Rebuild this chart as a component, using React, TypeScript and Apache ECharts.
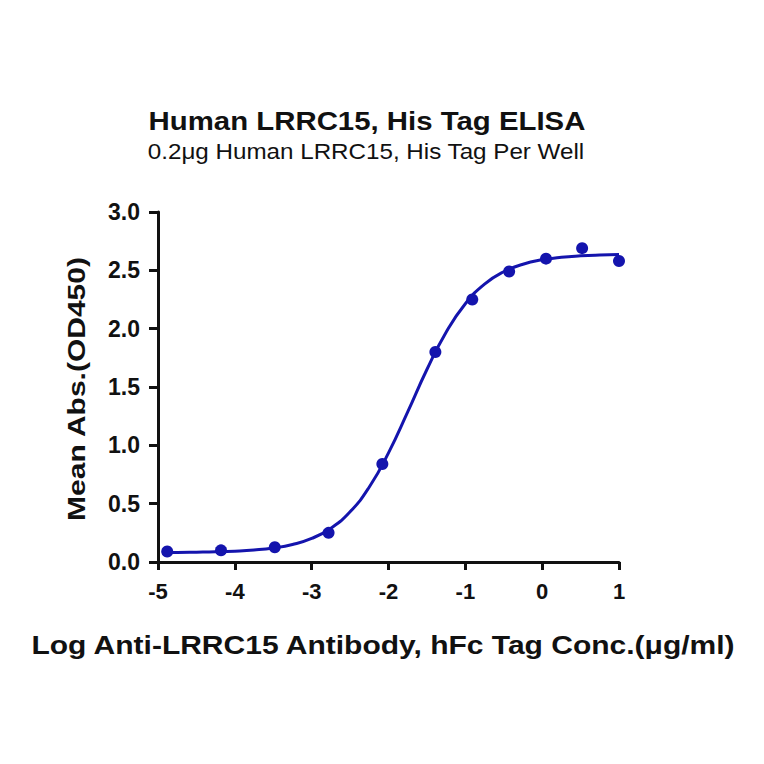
import React, { useEffect, useRef } from "react";
import * as echarts from "echarts";

const titleText = "Human LRRC15, His Tag ELISA";
const subtitleText = "0.2μg Human LRRC15, His Tag Per Well";
const xAxisName = "Log Anti-LRRC15 Antibody, hFc Tag Conc.(μg/ml)";
const yAxisName = "Mean Abs.(OD450)";

// measured points (log conc, OD450)
const pointX = [-4.88, -4.18, -3.48, -2.78, -2.08, -1.39, -0.91, -0.43, 0.05, 0.52, 1.0];
const pointY = [0.09, 0.1, 0.126, 0.25, 0.84, 1.8, 2.25, 2.49, 2.6, 2.69, 2.58];

// fitted curve
const curveX = [-4.88, -4.75, -4.5, -4.25, -4.0, -3.75, -3.5, -3.25, -3.0, -2.75, -2.5, -2.25, -2.0, -1.75, -1.5, -1.25, -1.0, -0.75, -0.5, -0.25, 0, 0.25, 0.5, 0.75, 1.0];
const curveY = [0.082, 0.082, 0.084, 0.087, 0.093, 0.103, 0.12, 0.15, 0.202, 0.29, 0.43, 0.643, 0.935, 1.286, 1.65, 1.97, 2.214, 2.382, 2.488, 2.552, 2.59, 2.612, 2.624, 2.631, 2.635];

const COLOR = "#1414ad";
const FONT = "Liberation Sans, Arial, sans-serif";
const INK = "#111";

export default function App() {
  const ref = useRef<HTMLDivElement>(null);
  useEffect(() => {
    if (!ref.current) return;
    const chart = echarts.init(ref.current, null, { renderer: "svg" });
    chart.setOption({
      animation: false,
      backgroundColor: "#ffffff",
      graphic: [
        {
          type: "text",
          x: 367,
          y: 121,
          scaleX: 1.13,
          style: {
            text: titleText,
            fontFamily: FONT,
            fontSize: 26,
            fontWeight: "bold",
            fill: INK,
            align: "center",
            verticalAlign: "middle",
          },
        },
        {
          type: "text",
          x: 366,
          y: 151,
          scaleX: 1.1,
          style: {
            text: subtitleText,
            fontFamily: FONT,
            fontSize: 22,
            fill: INK,
            align: "center",
            verticalAlign: "middle",
          },
        },
        {
          type: "text",
          x: 383,
          y: 645,
          scaleX: 1.2,
          style: {
            text: xAxisName,
            fontFamily: FONT,
            fontSize: 25,
            fontWeight: "bold",
            fill: INK,
            align: "center",
            verticalAlign: "middle",
          },
        },
        {
          type: "text",
          x: 77,
          y: 389,
          rotation: Math.PI / 2,
          scaleX: 1.25,
          style: {
            text: yAxisName,
            fontFamily: FONT,
            fontSize: 24,
            fontWeight: "bold",
            fill: INK,
            align: "center",
            verticalAlign: "middle",
          },
        },
      ],
      grid: { left: 158, right: 145, top: 212, bottom: 202, containLabel: false },
      xAxis: {
        type: "value",
        min: -5,
        max: 1,
        interval: 1,
        axisLine: { onZero: false, lineStyle: { color: INK, width: 3 } },
        axisTick: { length: 8, lineStyle: { color: INK, width: 3 } },
        axisLabel: { fontFamily: FONT, fontSize: 22, fontWeight: "bold", color: INK, margin: 18 },
        splitLine: { show: false },
      },
      yAxis: {
        type: "value",
        min: 0,
        max: 3,
        interval: 0.5,
        axisLine: { onZero: false, lineStyle: { color: INK, width: 3 } },
        axisTick: { length: 9, lineStyle: { color: INK, width: 3 } },
        axisLabel: {
          fontFamily: FONT,
          fontSize: 23,
          fontWeight: "bold",
          color: INK,
          margin: 18,
          formatter: (v: number) => v.toFixed(1),
        },
        splitLine: { show: false },
      },
      series: [
        {
          type: "line",
          data: curveX.map((x, i) => [x, curveY[i]]),
          smooth: true,
          showSymbol: false,
          symbol: "none",
          lineStyle: { color: COLOR, width: 3 },
          z: 2,
        },
        {
          type: "scatter",
          data: pointX.map((x, i) => [x, pointY[i]]),
          symbol: "circle",
          symbolSize: 12,
          itemStyle: { color: COLOR, opacity: 1 },
          z: 3,
        },
      ],
    });
    return () => chart.dispose();
  }, []);
  return (
    <div
      ref={ref}
      style={{ position: "fixed", left: 0, top: 0, width: 764, height: 764, background: "#fff" }}
    />
  );
}
